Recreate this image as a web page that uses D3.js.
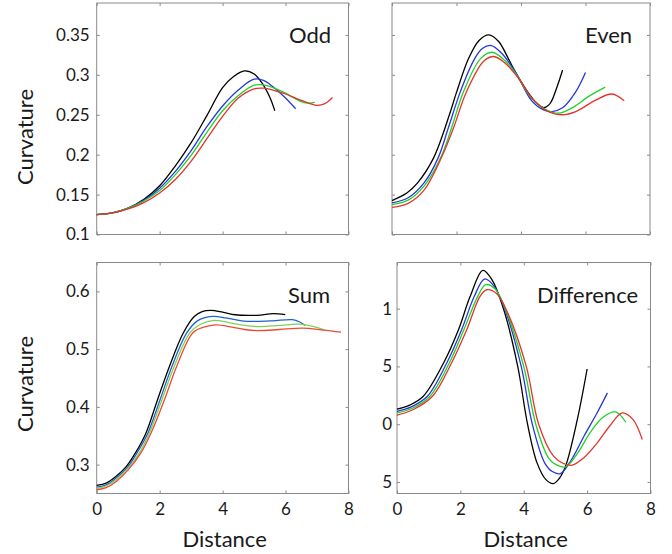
<!DOCTYPE html>
<html>
<head>
<meta charset="utf-8">
<script src="https://cdn.jsdelivr.net/npm/d3@7"></script>
<style>
  body { margin: 0; background: #fff; }
  svg { display: block; }
  text { font-family: Lato, "Open Sans", sans-serif; fill: #1a1a1a; }
</style>
</head>
<body>
<svg id="chart" width="672" height="554"></svg>
<script>
// ---- data: [distance, curvature] samples for each series ----
const oddBlack  = [[0,0.125],[0.5,0.127],[1,0.133],[1.5,0.144],[2,0.161],[2.5,0.186],[3,0.215],[3.5,0.249],[4,0.284],[4.35,0.298],[4.7,0.305],[5,0.301],[5.25,0.290],[5.5,0.272],[5.66,0.255]];
const oddBlue   = [[0,0.125],[0.5,0.127],[1,0.133],[1.5,0.143],[2,0.158],[2.5,0.179],[3,0.205],[3.5,0.235],[4,0.261],[4.5,0.281],[5,0.2945],[5.3,0.293],[5.6,0.285],[6,0.271],[6.32,0.2575]];
const oddGreen  = [[0,0.125],[0.5,0.127],[1,0.133],[1.5,0.142],[2,0.155],[2.5,0.175],[3,0.199],[3.5,0.228],[4,0.255],[4.5,0.274],[5,0.287],[5.3,0.2875],[5.6,0.284],[6,0.277],[6.5,0.2665],[6.75,0.2645],[6.93,0.2655]];
const oddRed    = [[0,0.125],[0.5,0.127],[1,0.132],[1.5,0.140],[2,0.152],[2.5,0.169],[3,0.192],[3.5,0.220],[4,0.248],[4.5,0.271],[5,0.2825],[5.3,0.2833],[5.6,0.281],[6,0.276],[6.5,0.268],[7,0.2618],[7.25,0.2640],[7.49,0.2717]];

const evenBlack = [[0,0.1425],[0.46,0.152],[0.78,0.164],[1.29,0.196],[1.78,0.250],[2.0,0.278],[2.38,0.321],[2.7,0.343],[3,0.350],[3.3,0.342],[3.6,0.321],[3.82,0.304],[4.2,0.279],[4.5,0.264],[4.7,0.259],[4.9,0.264],[5.1,0.283],[5.29,0.306]];
const evenBlue  = [[0,0.1396],[0.5,0.146],[1,0.165],[1.43,0.196],[1.75,0.234],[2.12,0.279],[2.56,0.320],[2.8,0.333],[3.08,0.3367],[3.4,0.327],[3.82,0.304],[4.34,0.267],[4.7,0.256],[4.96,0.254],[5.3,0.259],[5.7,0.279],[6,0.303]];
const evenGreen = [[0,0.1375],[0.5,0.143],[1,0.161],[1.53,0.198],[1.85,0.234],[2.22,0.279],[2.74,0.320],[3.1,0.3283],[3.5,0.318],[3.85,0.301],[4.3,0.272],[4.8,0.256],[5.17,0.252],[5.6,0.259],[6.1,0.273],[6.61,0.2846]];
const evenRed   = [[0,0.134],[0.5,0.139],[1,0.156],[1.55,0.198],[1.93,0.236],[2.29,0.277],[2.84,0.317],[3.15,0.323],[3.5,0.315],[3.9,0.297],[4.4,0.268],[4.9,0.253],[5.27,0.250],[5.7,0.254],[6.3,0.268],[6.82,0.276],[7.2,0.2675]];

const sumBlack  = [[0,0.264],[0.3,0.268],[0.6,0.279],[0.93,0.296],[1.25,0.322],[1.56,0.354],[1.93,0.412],[2.31,0.470],[2.75,0.528],[3.1,0.5566],[3.35,0.565],[3.63,0.567],[4,0.564],[4.4,0.5595],[4.85,0.5584],[5.2,0.559],[5.6,0.5613],[5.99,0.5596]];
const sumBlue   = [[0,0.261],[0.3,0.265],[0.6,0.276],[1,0.297],[1.3,0.322],[1.62,0.354],[2.01,0.412],[2.39,0.470],[2.86,0.528],[3.2,0.549],[3.68,0.5567],[4.1,0.554],[4.6,0.549],[5.06,0.548],[5.6,0.549],[6.22,0.551],[6.45,0.547],[6.62,0.541]];
const sumGreen  = [[0,0.259],[0.3,0.263],[0.6,0.273],[1,0.294],[1.35,0.320],[1.67,0.354],[2.07,0.412],[2.46,0.470],[2.96,0.528],[3.3,0.543],[3.73,0.5497],[4.2,0.546],[4.7,0.541],[5.16,0.539],[5.8,0.541],[6.43,0.5433],[6.9,0.539],[7.23,0.5335]];
const sumRed    = [[0,0.2565],[0.3,0.260],[0.6,0.270],[1,0.291],[1.4,0.320],[1.72,0.354],[2.15,0.412],[2.54,0.470],[3.05,0.528],[3.4,0.538],[3.79,0.542],[4.3,0.538],[4.7,0.534],[5.16,0.532],[5.8,0.534],[6.54,0.5364],[7.2,0.533],[7.76,0.5295]];

const diffBlack = [[0,0.130],[0.4,0.165],[0.83,0.242],[1.47,0.530],[1.94,0.818],[2.31,1.107],[2.71,1.332],[3.0,1.250],[3.37,0.991],[3.81,0.500],[4.12,0.000],[4.42,-0.335],[4.7,-0.480],[4.93,-0.514],[5.12,-0.470],[5.32,-0.363],[5.69,0.040],[6.0,0.478]];
const diffBlue  = [[0,0.112],[0.45,0.150],[0.96,0.242],[1.57,0.530],[2.04,0.818],[2.44,1.107],[2.76,1.257],[3.05,1.200],[3.43,0.975],[3.92,0.500],[4.27,0.000],[4.66,-0.335],[4.9,-0.410],[5.16,-0.427],[5.5,-0.310],[5.9,-0.104],[6.3,0.090],[6.64,0.271]];
const diffGreen = [[0,0.098],[0.5,0.140],[1.04,0.242],[1.65,0.530],[2.11,0.818],[2.55,1.107],[2.8,1.208],[3.1,1.170],[3.45,0.975],[4.0,0.500],[4.38,0.000],[4.8,-0.300],[5.05,-0.355],[5.32,-0.369],[5.7,-0.250],[6.1,-0.070],[6.5,0.060],[6.9,0.106],[7.22,0.017]];
const diffRed   = [[0,0.078],[0.5,0.125],[1.12,0.242],[1.72,0.530],[2.2,0.818],[2.62,1.107],[2.83,1.164],[3.15,1.130],[3.5,0.960],[4.08,0.500],[4.47,0.000],[4.94,-0.277],[5.25,-0.340],[5.53,-0.355],[5.9,-0.290],[6.32,-0.162],[6.7,-0.020],[7.11,0.098],[7.45,0.040],[7.74,-0.133]];

// ---- axes: tick values and their printed labels ----
const xTicks       = [0, 2, 4, 6, 8];
const xTickLabels  = ["0", "2", "4", "6", "8"];
const oddTicks     = [0.1, 0.15, 0.2, 0.25, 0.3, 0.35];
const oddLabels    = ["0.1", "0.15", "0.2", "0.25", "0.3", "0.35"];
const sumTicks     = [0.3, 0.4, 0.5, 0.6];
const sumLabels    = ["0.3", "0.4", "0.5", "0.6"];
const diffTicks    = [-0.5, 0, 0.5, 1];
const diffLabels   = ["5", "0", "5", "1"];

const lineColors = ["#000000", "#2438d8", "#22d02a", "#e4332b"];
const sumColors  = ["#000000", "#1f62cc", "#7fd05a", "#ee4a33"];

const svg = d3.select("#chart");
const axisColor = "#8a8a8a";

const panels = [
  { title: "Odd",        series: [oddBlack, oddBlue, oddGreen, oddRed],     colors: lineColors,
    x0: 96.7, x1: 348.5, y0: 3,     y1: 234.5, yDomain: [0.1, 0.39],  yTicks: oddTicks,  yLabels: oddLabels,
    showX: false, tx: 289, ty: 43 },
  { title: "Even",       series: [evenBlack, evenBlue, evenGreen, evenRed], colors: lineColors,
    x0: 392,  x1: 650,   y0: 3,     y1: 234.5, yDomain: [0.1, 0.39],  yTicks: oddTicks,  yLabels: null,
    showX: false, tx: 585, ty: 43 },
  { title: "Sum",        series: [sumBlack, sumBlue, sumGreen, sumRed],     colors: sumColors,
    x0: 96.7, x1: 348.5, y0: 262.5, y1: 493.5, yDomain: [0.25, 0.65], yTicks: sumTicks,  yLabels: sumLabels,
    showX: true, tx: 288, ty: 303 },
  { title: "Difference", series: [diffBlack, diffBlue, diffGreen, diffRed], colors: lineColors,
    x0: 397,  x1: 650.5, y0: 262.5, y1: 493.5, yDomain: [-0.6, 1.4],  yTicks: diffTicks, yLabels: diffLabels,
    showX: true, tx: 537, ty: 303 }
];

const tickLen = 3;

panels.forEach(p => {
  const x = d3.scaleLinear().domain([0, 8]).range([p.x0, p.x1]);
  const y = d3.scaleLinear().domain(p.yDomain).range([p.y1, p.y0]);
  const g = svg.append("g");

  // frame
  g.append("rect")
    .attr("x", p.x0).attr("y", p.y0)
    .attr("width", p.x1 - p.x0).attr("height", p.y1 - p.y0)
    .attr("fill", "none").attr("stroke", axisColor).attr("stroke-width", 1);

  const styleAxis = sel => {
    sel.select(".domain").remove();
    sel.selectAll(".tick line").attr("stroke", axisColor);
    sel.selectAll(".tick text").attr("fill", "#1a1a1a").style("font-size", "17px")
       .style("font-family", "Lato, 'Open Sans', sans-serif");
  };

  // bottom axis (inward ticks)
  g.append("g").attr("transform", `translate(0,${p.y1})`)
    .call(d3.axisBottom(x).tickValues(xTicks).tickSize(-tickLen).tickPadding(9)
      .tickFormat((d, i) => p.showX ? xTickLabels[i] : ""))
    .call(styleAxis);
  // top axis
  g.append("g").attr("transform", `translate(0,${p.y0})`)
    .call(d3.axisTop(x).tickValues(xTicks).tickSize(-tickLen).tickFormat(""))
    .call(styleAxis);
  // left axis
  g.append("g").attr("transform", `translate(${p.x0},0)`)
    .call(d3.axisLeft(y).tickValues(p.yTicks).tickSize(-tickLen).tickPadding(p.title === "Difference" ? 5 : 7)
      .tickFormat((d, i) => p.yLabels ? p.yLabels[i] : ""))
    .call(styleAxis);
  // right axis
  g.append("g").attr("transform", `translate(${p.x1},0)`)
    .call(d3.axisRight(y).tickValues(p.yTicks).tickSize(-tickLen).tickFormat(""))
    .call(styleAxis);

  // curves
  const line = d3.line().x(d => x(d[0])).y(d => y(d[1])).curve(d3.curveCatmullRom.alpha(0.5));
  p.series.forEach((s, i) => {
    g.append("path").datum(s)
      .attr("d", line)
      .attr("fill", "none")
      .attr("stroke", p.colors[i])
      .attr("stroke-width", 1.3)
      .attr("stroke-linejoin", "round");
  });

  // panel title
  g.append("text").attr("x", p.tx).attr("y", p.ty)
    .style("font-size", "22px").text(p.title);

  if (p.showX) {
    g.append("text")
      .attr("x", (p.x0 + p.x1) / 2 + 2).attr("y", 547)
      .attr("text-anchor", "middle").style("font-size", "22px")
      .text("Distance");
  }
});

// y-axis titles
[[137, "Curvature"], [384, "Curvature"]].forEach(([cy, label]) => {
  svg.append("text")
    .attr("transform", `translate(33,${cy}) rotate(-90)`)
    .attr("text-anchor", "middle").style("font-size", "22px")
    .text(label);
});
</script>
</body>
</html>
